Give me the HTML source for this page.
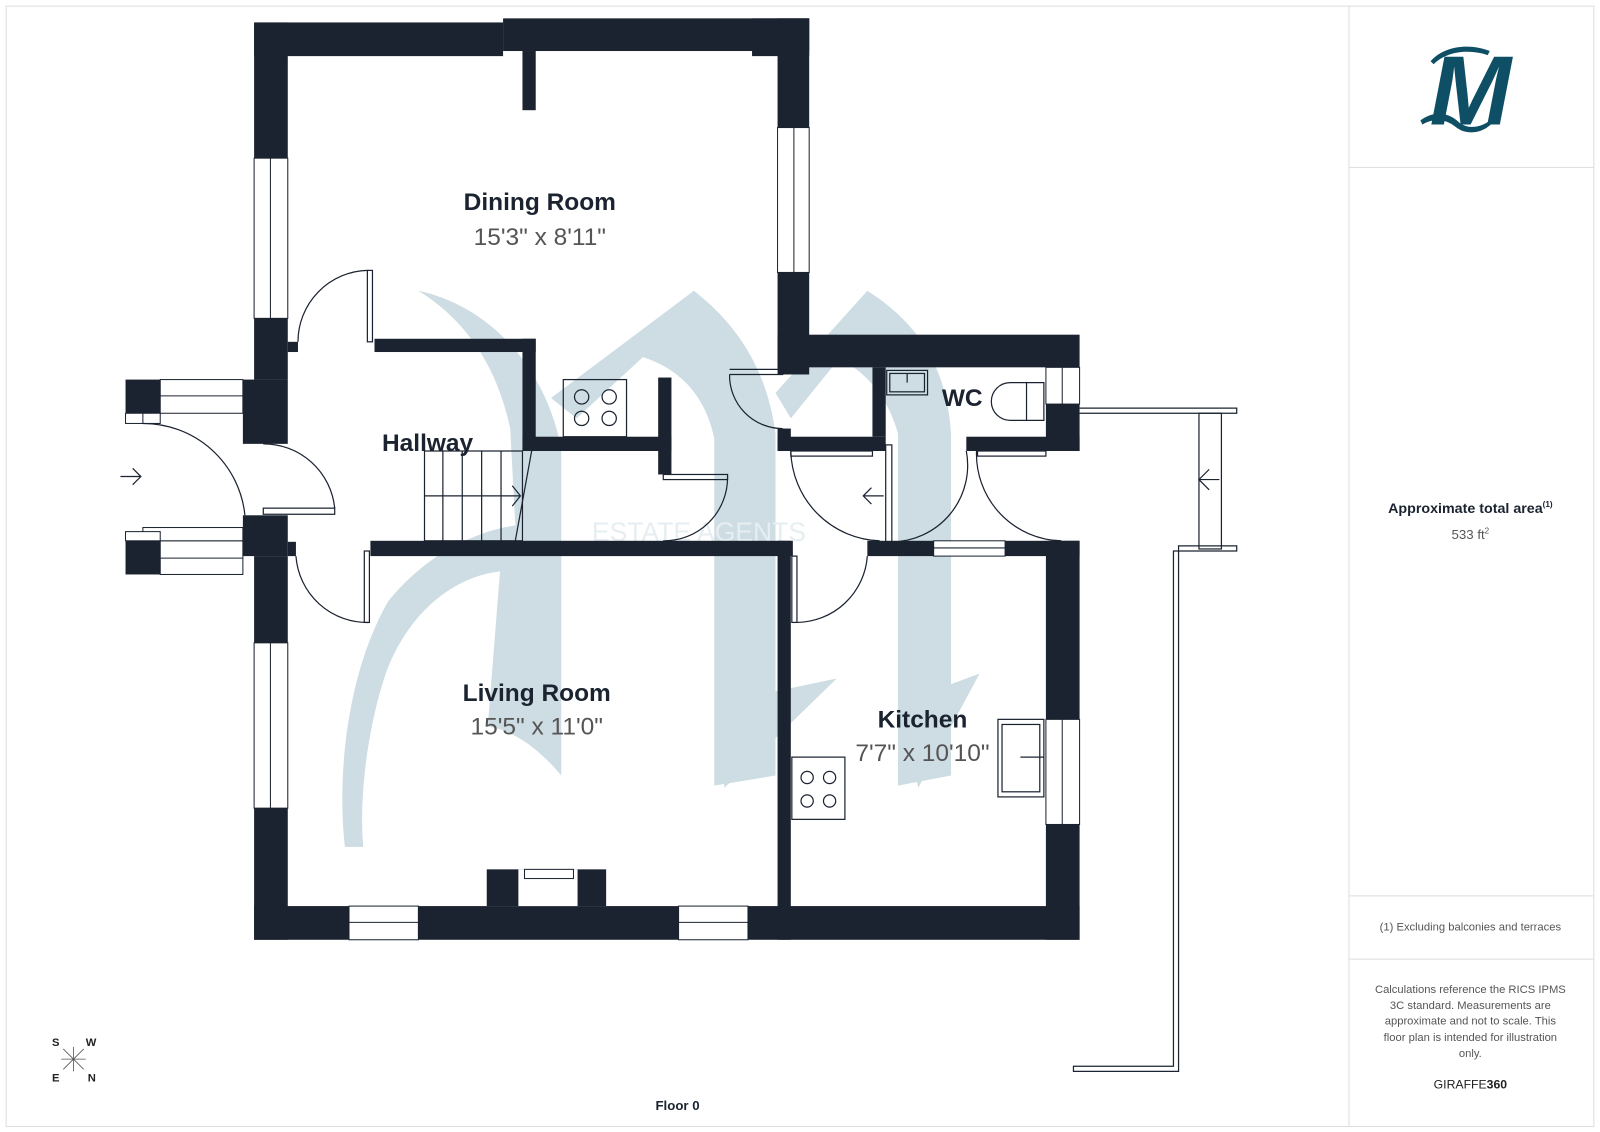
<!DOCTYPE html>
<html><head><meta charset="utf-8"><style>
html,body{margin:0;padding:0;background:#fff}
svg{display:block}
text{font-family:"Liberation Sans",sans-serif}
</style></head><body>
<svg width="1600" height="1132" viewBox="0 0 1568 1109.4" xmlns="http://www.w3.org/2000/svg">
<rect x="6" y="6" width="1556" height="1098" fill="#fff" stroke="#ddd" stroke-width="1"/>
<line x1="1322" y1="6" x2="1322" y2="1104" stroke="#ddd"/>
<line x1="1322" y1="164" x2="1562" y2="164" stroke="#ddd"/>
<line x1="1322" y1="878" x2="1562" y2="878" stroke="#ddd"/>
<line x1="1322" y1="940" x2="1562" y2="940" stroke="#ddd"/>

<!-- watermark -->
<g fill="#cddde3">
<path d="M410 285 C480 300 535 360 550 440 L550 760 C525 730 500 715 478 712 L490 560 C445 565 400 600 378 660 C358 720 352 790 356 830 L338 830 C330 760 340 660 380 590 C420 540 470 520 505 515 L500 420 C485 350 450 310 410 285 Z"/>
<path d="M540 390 L680 285 C725 320 752 365 760 425 L760 760 L700 770 L700 430 C692 390 668 362 630 350 L565 410 Z"/>
<path d="M760 385 L850 285 C905 320 928 365 932 425 L932 760 L880 770 L880 425 C872 395 852 365 822 352 L775 410 Z"/>
<path d="M700 690 L820 665 L710 772 Z"/>
<path d="M880 690 L960 660 L900 772 Z"/>
<text x="685" y="530" font-family="Liberation Serif,serif" font-size="26" fill="#e6eef1" text-anchor="middle">ESTATE AGENTS</text>
</g>

<!-- walls -->
<g fill="#1b2330">
<rect x="249" y="22" width="244" height="33"/>
<rect x="493" y="18" width="300" height="32"/>
<rect x="737" y="18" width="56" height="37"/>
<rect x="512" y="50" width="13" height="58"/>
<rect x="762" y="18" width="31" height="107"/>
<rect x="762" y="267" width="31" height="100"/>
<rect x="249" y="22" width="33" height="133"/>
<rect x="249" y="312" width="33" height="60"/>
<rect x="282" y="335" width="10" height="10"/>
<rect x="238" y="372" width="44" height="63"/>
<rect x="367" y="332" width="158" height="13"/>
<rect x="512" y="332" width="13" height="110"/>
<rect x="512" y="428" width="146" height="14"/>
<rect x="645" y="370" width="13" height="95"/>
<rect x="238" y="505" width="44" height="40"/>
<rect x="249" y="545" width="33" height="85"/>
<rect x="282" y="531" width="8" height="14"/>
<rect x="249" y="792" width="33" height="129"/>
<rect x="123" y="372" width="34" height="33"/>
<rect x="123" y="530" width="34" height="33"/>
<rect x="363" y="530" width="414" height="15"/>
<rect x="762" y="530" width="13" height="391"/>
<rect x="850" y="530" width="65" height="15"/>
<rect x="985" y="530" width="73" height="15"/>
<rect x="249" y="888" width="93" height="33"/>
<rect x="410" y="888" width="255" height="33"/>
<rect x="733" y="888" width="325" height="33"/>
<rect x="477" y="852" width="117" height="36"/>
<rect x="1025" y="530" width="33" height="175"/>
<rect x="1025" y="808" width="33" height="113"/>
<rect x="762" y="328" width="296" height="32"/>
<rect x="855" y="360" width="13" height="68"/>
<rect x="762" y="420" width="13" height="22"/>
<rect x="762" y="428" width="106" height="14"/>
<rect x="947" y="428" width="111" height="14"/>
<rect x="1025" y="396" width="33" height="46"/>
</g>
<rect x="508" y="852" width="58" height="36" fill="#fff"/>
<rect x="514" y="852" width="48" height="9" fill="none" stroke="#1b2330"/>

<!-- windows -->
<g fill="#fff" stroke="#1b2330" stroke-width="1">
<rect x="249" y="155" width="33" height="157"/><line x1="265" y1="155" x2="265" y2="312"/>
<rect x="762" y="125" width="31" height="142"/><line x1="778" y1="125" x2="778" y2="267"/>
<rect x="249" y="630" width="33" height="162"/><line x1="265" y1="630" x2="265" y2="792"/>
<rect x="342" y="888" width="68" height="33"/><line x1="342" y1="904" x2="410" y2="904"/>
<rect x="665" y="888" width="68" height="33"/><line x1="665" y1="904" x2="733" y2="904"/>
<rect x="1025" y="705" width="33" height="103"/><line x1="1041" y1="705" x2="1041" y2="808"/>
<rect x="915" y="530" width="70" height="15"/><line x1="915" y1="537" x2="985" y2="537"/>
<rect x="1025" y="360" width="33" height="36"/><line x1="1041" y1="360" x2="1041" y2="396"/>
<rect x="157" y="372" width="81" height="33"/><line x1="157" y1="388" x2="238" y2="388"/>
<rect x="123" y="405" width="34" height="10"/><line x1="140" y1="405" x2="140" y2="415"/>
<rect x="157" y="530" width="81" height="33"/><line x1="157" y1="547" x2="238" y2="547"/>
<rect x="140" y="517" width="98" height="13"/><rect x="123" y="521" width="34" height="9"/>
</g>

<!-- doors etc -->
<g fill="none" stroke="#1b2330" stroke-width="1.2">
<rect x="360" y="265" width="5" height="70"/><path d="M360 265 A70 70 0 0 0 292 335"/>
<path d="M140 415 A100 100 0 0 1 240 505"/>
<rect x="258" y="498" width="70" height="6"/><path d="M328 498 A70 70 0 0 0 258 435"/>
<rect x="357" y="540" width="5" height="70"/><path d="M362 610 A70 70 0 0 1 290 545"/>
<rect x="650" y="465" width="63" height="5"/><path d="M713 467 A62 62 0 0 1 650 530"/>
<path d="M715 362 L767 362 L767 367 L715 367"/><path d="M715 367 A52 52 0 0 0 767 420"/>
<path d="M775 442 A90 90 0 0 0 862 530"/>
<rect x="776" y="545" width="5" height="65"/><path d="M781 610 A70 70 0 0 0 850 545"/>
<rect x="868" y="436" width="6" height="95"/><path d="M874 531 A75 75 0 0 0 947 442"/>
<path d="M957 442 A85 85 0 0 0 1040 530"/>
<rect x="958" y="442" width="67" height="5"/>
<rect x="775" y="442" width="80" height="5"/>
<rect x="416" y="442" width="96" height="88"/>
<line x1="434" y1="442" x2="434" y2="530"/><line x1="453" y1="442" x2="453" y2="530"/>
<line x1="472" y1="442" x2="472" y2="530"/><line x1="491" y1="442" x2="491" y2="530"/>
<line x1="416" y1="486" x2="510" y2="486"/><path d="M502 476 L510 486 L502 496"/>
<line x1="521" y1="442" x2="505" y2="530"/>
<path d="M118 467 L138 467 M130 459 L138 467 L130 475"/>
<path d="M866 486 L846 486 M854 478 L846 486 L854 494"/>
<path d="M1195 470 L1175 470 M1185 460 L1175 470 L1185 480"/>
<path d="M1058 400 L1212 400 L1212 405 L1058 405"/>
<rect x="1175" y="405" width="22" height="133"/>
<path d="M1212 535 L1155 535 L1155 1050 L1052 1050 L1052 1045 L1150 1045 L1150 540 L1212 540 Z"/>
<rect x="552" y="372" width="62" height="56"/>
<circle cx="570" cy="389" r="7"/><circle cx="597" cy="389" r="7"/><circle cx="570" cy="410" r="7"/><circle cx="597" cy="410" r="7"/>
<rect x="776" y="742" width="52" height="61"/>
<circle cx="791" cy="762" r="6"/><circle cx="813" cy="762" r="6"/><circle cx="791" cy="785" r="6"/><circle cx="813" cy="785" r="6"/>
<rect x="978" y="705" width="45" height="76"/><rect x="982" y="710" width="37" height="66"/><line x1="1000" y1="742" x2="1023" y2="742"/>
<path d="M1023 375 L990 375 A18 18 0 0 0 990 412 L1023 412 Z"/><line x1="1006" y1="375" x2="1006" y2="412"/>
<rect x="869" y="363" width="40" height="24"/><rect x="872" y="366" width="34" height="18"/><line x1="889" y1="366" x2="889" y2="375"/>
</g>

<!-- compass -->
<g stroke="#555" stroke-width="0.8">
<line x1="62" y1="1028" x2="82" y2="1048"/><line x1="82" y1="1028" x2="62" y2="1048"/>
<line x1="72" y1="1026" x2="72" y2="1050"/><line x1="60" y1="1038" x2="84" y2="1038"/>
</g>
<g font-size="11" font-weight="bold" fill="#222">
<text x="51" y="1025">S</text><text x="84" y="1025">W</text><text x="51" y="1060">E</text><text x="86" y="1060">N</text>
</g>

<!-- logo -->
<g fill="#0e4f66">
<text x="1441" y="122" font-size="96" font-family="Liberation Serif,serif" font-weight="bold" font-style="italic" text-anchor="middle">M</text>
<path d="M1392 118 C1405 108 1420 110 1430 120 C1440 128 1455 124 1462 116 L1464 119 C1455 130 1438 134 1426 124 C1416 116 1404 116 1394 122 Z"/>
<path d="M1402 60 C1415 45 1440 42 1460 50 L1458 54 C1440 48 1418 50 1405 63 Z"/>
</g>

<!-- labels -->
<g text-anchor="middle" fill="#1b2330">
<text x="529" y="206" font-size="24" font-weight="bold">Dining Room</text>
<text x="529" y="240" font-size="24" fill="#555">15'3" x 8'11"</text>
<text x="419" y="442" font-size="24" font-weight="bold">Hallway</text>
<text x="526" y="687" font-size="24" font-weight="bold">Living Room</text>
<text x="526" y="720" font-size="24" fill="#555">15'5" x 11'0"</text>
<text x="904" y="713" font-size="24" font-weight="bold">Kitchen</text>
<text x="904" y="746" font-size="24" fill="#555">7'7" x 10'10"</text>
<text x="943" y="398" font-size="24" font-weight="bold">WC</text>
<text x="664" y="1088" font-size="13" font-weight="bold">Floor 0</text>
<text x="1441" y="503" font-size="14" font-weight="bold">Approximate total area<tspan font-size="8" dy="-6">(1)</tspan></text>
<text x="1441" y="528" font-size="13" fill="#555">533 ft<tspan font-size="8" dy="-5">2</tspan></text>
<text x="1441" y="912" font-size="11" fill="#555">(1) Excluding balconies and terraces</text>
<g font-size="11" fill="#555">
<text x="1441" y="973">Calculations reference the RICS IPMS</text>
<text x="1441" y="989">3C standard. Measurements are</text>
<text x="1441" y="1004">approximate and not to scale. This</text>
<text x="1441" y="1020">floor plan is intended for illustration</text>
<text x="1441" y="1036">only.</text>
</g>
<text x="1441" y="1067" font-size="12" fill="#222">GIRAFFE<tspan font-weight="bold">360</tspan></text>
</g>
</svg>
</body></html>
